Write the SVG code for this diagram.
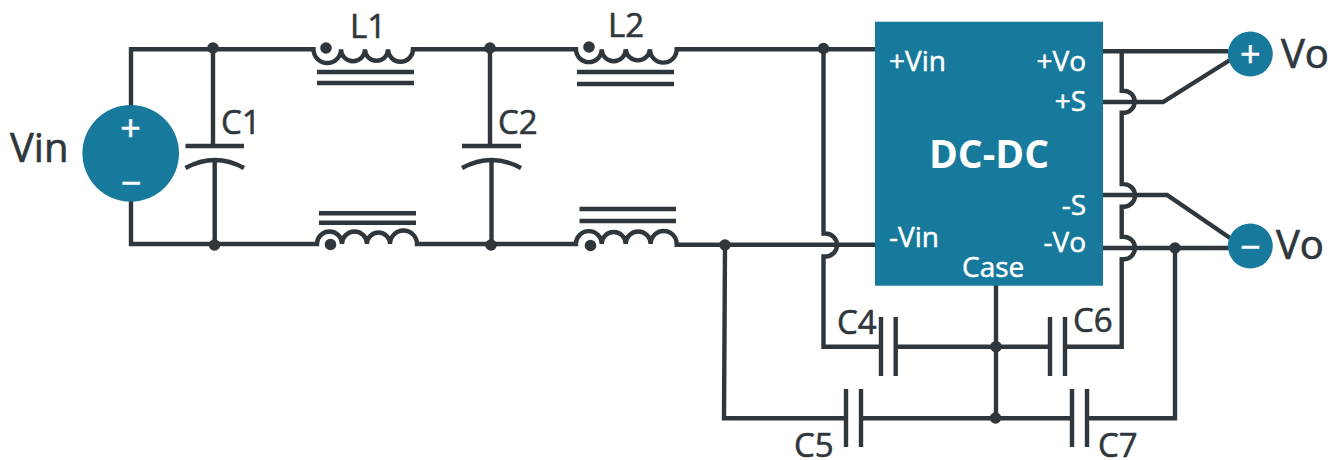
<svg xmlns="http://www.w3.org/2000/svg" width="1330" height="460" viewBox="0 0 1330 460">
<style>
.w{fill:none;stroke:#2f373c;stroke-width:4.400;stroke-linejoin:miter}
.d{fill:#2f373c}
.b{fill:#17799b}
text{font-family:"Open Sans","DejaVu Sans",sans-serif}
.l{fill:#2f373c;stroke:#2f373c;stroke-width:.6px;font-size:33px}
.big{fill:#2f373c;stroke:#2f373c;stroke-width:.7px;font-size:40px}
.t{fill:#fff;stroke:#fff;stroke-width:.5px;font-size:28px}
.s{fill:#fff;stroke:#fff;stroke-width:.5px;font-size:36px;text-anchor:middle}
</style>
<rect width="1330" height="460" fill="#fff"/>
<g id="connectors">
<path class="w" d="M131 108V49.300H313.500a13.750 13.750 0 0 0 27.500 0a12 12 0 0 0 24 0a11.500 11.500 0 0 0 23 0a12.500 12.500 0 0 0 25 0H576a12.800 12.800 0 0 0 25.700 0a12 12 0 0 0 24 0a12.200 12.200 0 0 0 24.300 0a13.300 13.300 0 0 0 26.700 0H875"/>
<path class="w" d="M131 200V244H317a12.500 12.500 0 0 1 25 0a12.500 12.500 0 0 1 25 0a11.500 11.500 0 0 1 23 0a13.500 13.500 0 0 1 27 0H576a12.800 12.800 0 0 1 25.700 0a12 12 0 0 1 24 0a12.500 12.500 0 0 1 25 0a13 13 0 0 1 26 0L676.700 244.700H875"/>
<path class="w" d="M213 48V146M185.500 146H244M185.500 168Q215 152 244 168M214.700 160V245"/>
<path class="w" d="M490 48V146M462 146H521M462 168Q491.500 152 521 168M491.500 160V245"/>
<path class="w" d="M317 72H414M317 83H414M319 213.300H416M319 222.700H416M577 72H674M577 84H674M579.500 209H676M579.500 221H676"/>
<path class="w" d="M823.500 48.500V233.500h2a11.500 11.500 0 0 1 0 23h-2V346.700H881M895.700 346.700H1050M1065 346.700H1121.700V259.300h2a11.300 11.300 0 0 0 0-22.600h-2V206.700h2a11.300 11.300 0 0 0 0-22.600h-2V112.700h2a11 11 0 0 0 0-22h-2V51.300"/>
<path class="w" d="M1103 51.300H1228M1103 102H1163L1230 60M1103 195H1167L1230 238M1103 248H1228"/>
<path class="w" d="M881 317V376M895.700 317V376M1050 317V376M1065 317V376M846 389V447M861 389V447M1072 389V447M1087 389V447"/>
<path class="w" d="M725 245L724 418.300H846M861 418.300H1072M1087 418.300H1175V248M996 285V418"/>
<g class="d">
<circle cx="213" cy="48" r="5.800"/><circle cx="214.500" cy="245" r="5.800"/><circle cx="490" cy="48" r="5.800"/><circle cx="491" cy="245" r="5.800"/>
<circle cx="326" cy="48" r="5.800"/><circle cx="330.500" cy="244.500" r="5.800"/><circle cx="589" cy="47" r="5.800"/><circle cx="590.500" cy="245.500" r="5.800"/>
<circle cx="823.500" cy="48.500" r="5.800"/><circle cx="725" cy="245" r="5.800"/><circle cx="1175" cy="248" r="5.800"/><circle cx="996" cy="346.700" r="5.800"/><circle cx="995.500" cy="418" r="5.800"/>
</g>
</g>
<g id="vin"><circle class="b" cx="130.700" cy="153.300" r="48.300"/><text class="s" x="130.500" y="140.500">+</text><text class="s" x="131" y="195.500">−</text><text class="big" x="10" y="162">Vin</text></g>
<g id="dcdc"><rect class="b" x="875" y="21.700" width="228" height="264"/>
<text x="989" y="168" text-anchor="middle" font-size="39" font-weight="700" fill="#fff">DC-DC</text>
<text class="t" x="889" y="71">+Vin</text><text class="t" x="889" y="246.500">-Vin</text>
<text class="t" x="1086" y="71" text-anchor="end">+Vo</text><text class="t" x="1086" y="111" text-anchor="end">+S</text><text class="t" x="1086" y="215" text-anchor="end">-S</text><text class="t" x="1086" y="252" text-anchor="end">-Vo</text><text class="t" x="962" y="277">Case</text></g>
<g id="vo-plus"><circle class="b" cx="1250.300" cy="54" r="22.500"/><text class="s" x="1250.300" y="67">+</text><text class="big" x="1281" y="68">Vo</text></g>
<g id="vo-minus"><circle class="b" cx="1250.300" cy="246" r="22.500"/><text class="s" x="1250.300" y="259.500">−</text><text class="big" x="1276" y="259">Vo</text></g>
<g id="labels">
<text class="l" x="221" y="134">C1</text><text class="l" x="498" y="134">C2</text><text class="l" x="350" y="38">L1</text><text class="l" x="608" y="37">L2</text>
<text class="l" x="837" y="334">C4</text><text class="l" x="1073" y="332">C6</text><text class="l" x="794" y="457">C5</text><text class="l" x="1098" y="457">C7</text>
</g>
</svg>
